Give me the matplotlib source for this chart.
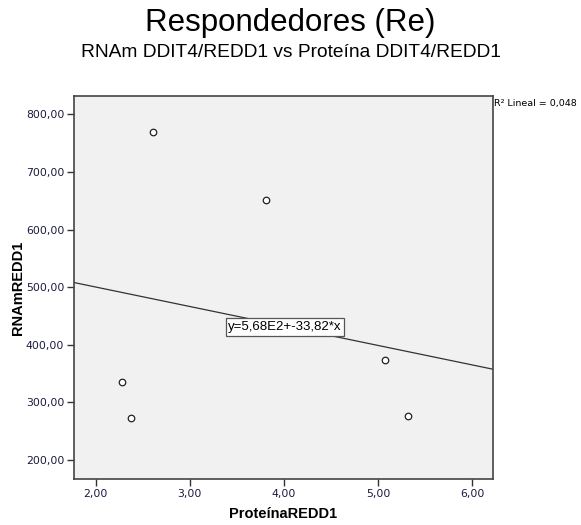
import matplotlib
matplotlib.use("Agg")
import matplotlib.pyplot as plt
import numpy as np
from matplotlib.ticker import FuncFormatter

# data
proteina = [2.61, 3.81, 2.28, 2.37, 5.07, 5.32]
rnam = [769, 651, 335, 273, 373, 276]
fit_intercept = 568.0
fit_slope = -33.82
r2_text = "R² Lineal = 0,048"
eq_text = "y=5,68E2+-33,82*x"

x_ticks = [2, 3, 4, 5, 6]
y_ticks = [200, 300, 400, 500, 600, 700, 800]

plt.rcParams["font.family"] = ["Liberation Sans", "DejaVu Sans"]

fig = plt.figure(figsize=(5.81, 5.25), dpi=100)
ax = fig.add_axes([0.1274, 0.0876, 0.7211, 0.7295])
ax.set_facecolor("#f1f1f1")

ax.set_xlim(1.77, 6.22)
ax.set_ylim(167, 832)

# regression line over the full x range
xs = np.array(ax.get_xlim())
ax.plot(xs, fit_intercept + fit_slope * xs, color="#333333", lw=0.9, zorder=2)

ax.scatter(proteina, rnam, s=22, facecolors="white", edgecolors="#222222",
           linewidths=0.9, zorder=3)

ax.text(4.01, 431, eq_text, ha="center", va="center", fontsize=9.5,
        bbox=dict(boxstyle="square,pad=0.2", fc="white", ec="#555555", lw=0.9),
        zorder=4)

fmt = FuncFormatter(lambda v, p: f"{v:.2f}".replace(".", ","))
ax.set_xticks(x_ticks)
ax.set_yticks(y_ticks)
ax.xaxis.set_major_formatter(fmt)
ax.yaxis.set_major_formatter(fmt)
ax.tick_params(direction="out", length=5, width=1, color="#333333",
               labelsize=7.8, labelcolor="#1a1a40", pad=2)
for lab in ax.get_xticklabels() + ax.get_yticklabels():
    lab.set_fontfamily("DejaVu Sans")
for s in ax.spines.values():
    s.set_color("#444444")
    s.set_linewidth(1.2)

ax.set_xlabel("ProteínaREDD1", fontsize=10.5, fontweight="bold", labelpad=6)
ax.set_ylabel("RNAmREDD1", fontsize=10.5, fontweight="bold", labelpad=1)

fig.text(0.5, 0.956, "Respondedores (Re)", ha="center", va="center", fontsize=22.5)
fig.text(0.5, 0.900, "RNAm DDIT4/REDD1 vs Proteína DDIT4/REDD1", ha="center",
         va="center", fontsize=13.8)
fig.text(0.851, 0.803, r2_text, ha="left", va="center", fontsize=6.8,
         family="DejaVu Sans")

fig.savefig("out.png", dpi=100)
